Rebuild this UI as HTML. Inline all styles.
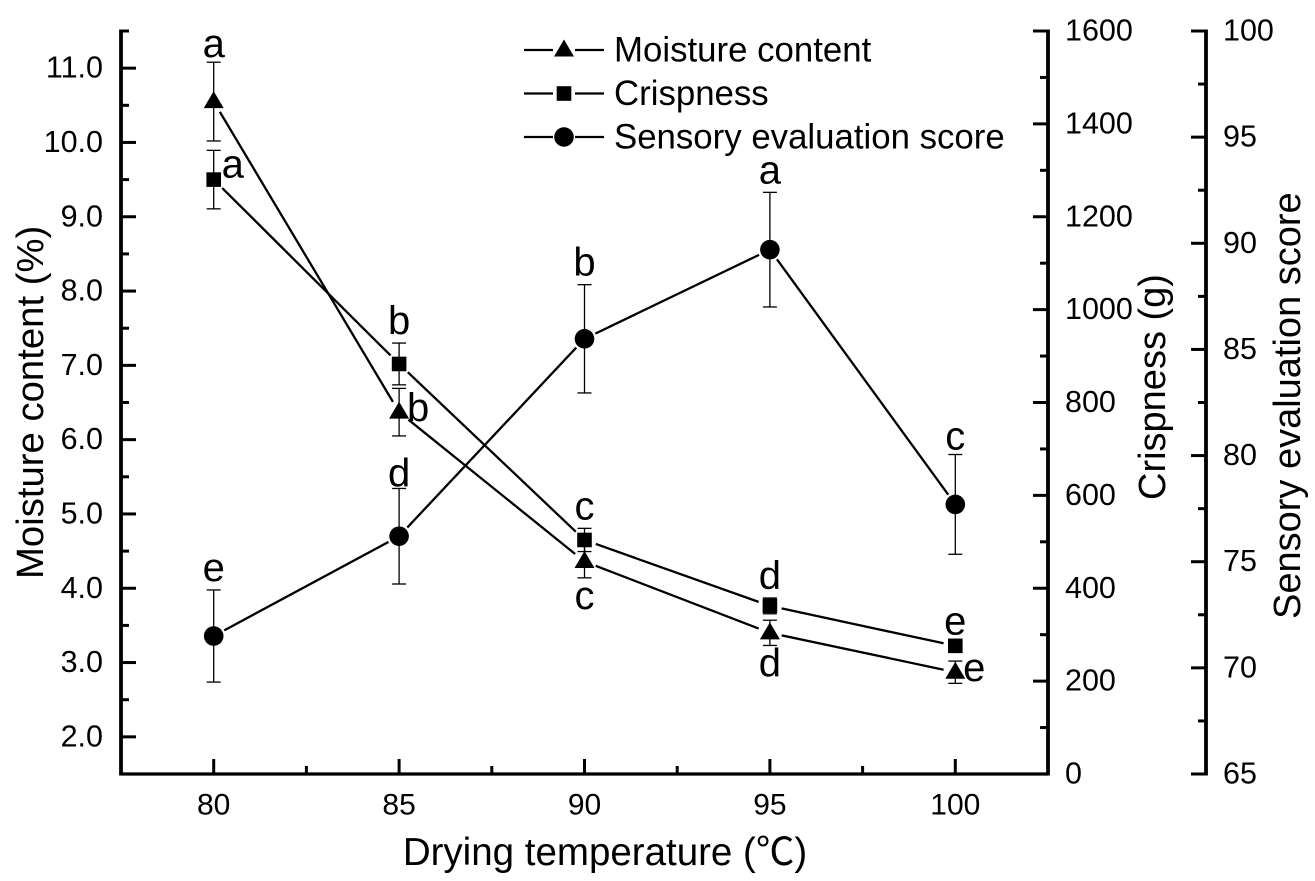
<!DOCTYPE html>
<html lang="en">
<head>
<meta charset="utf-8">
<title>Drying temperature chart</title>
<style>
html,body{margin:0;padding:0;background:#fff;}
svg{display:block;}
text{font-family:"Liberation Sans","Noto Sans CJK SC",sans-serif;fill:#000;}
</style>
</head>
<body>
<svg id="chart" xmlns="http://www.w3.org/2000/svg" width="1315" height="881" viewBox="0 0 1315 881">
  <rect x="0" y="0" width="1315" height="881" fill="#fff"/>
  <g id="axes"></g>
  <g id="series"></g>
  <g id="letters"></g>
  <g id="legend"></g>
  <text x="605" y="865" font-size="38.5" text-anchor="middle">Drying temperature (℃)</text>
  <text transform="translate(43,579) rotate(-90)" font-size="38.3" text-anchor="start">Moisture content (%)</text>
  <text transform="translate(1165,500) rotate(-90)" font-size="38" text-anchor="start">Crispness (g)</text>
  <text transform="translate(1300,619) rotate(-90)" font-size="38" text-anchor="start">Sensory evaluation score</text>
</svg>
<script>
const temperatures = [80, 85, 90, 95, 100];
const moistureValues = [10.55, 6.37, 4.36, 3.40, 2.87];
const moistureErrors = [0.53, 0.32, 0.22, 0.17, 0.15];
const moistureLetters = ['a', 'b', 'c', 'd', 'e'];
const moisturePlacement = ['aboveTight', 'right', 'below', 'below', 'right'];
const crispnessValues = [1280, 883, 504, 362, 276];
const crispnessErrors = [63, 45, 25, 17, 5];
const crispnessLetters = ['a', 'b', 'c', 'd', 'e'];
const crispnessPlacement = ['rightHigh', 'above', 'above', 'above', 'above'];
const sensoryValues = [71.5, 76.2, 85.5, 89.7, 77.7];
const sensoryErrors = [2.17, 2.25, 2.55, 2.7, 2.35];
const sensoryLetters = ['e', 'd', 'b', 'a', 'c'];
const sensoryPlacement = ['above', 'aboveTouch', 'above', 'above', 'aboveTight'];
const xTickLabels = [80, 85, 90, 95, 100];
const moistureTickLabels = ['2.0', '3.0', '4.0', '5.0', '6.0', '7.0', '8.0', '9.0', '10.0', '11.0'];
const crispnessTickLabels = [0, 200, 400, 600, 800, 1000, 1200, 1400, 1600];
const sensoryTickLabels = [65, 70, 75, 80, 85, 90, 95, 100];
const legendLabels = ['Moisture content', 'Crispness', 'Sensory evaluation score'];

const NS = 'http://www.w3.org/2000/svg';
const plot = { left: 121, right: 1048, top: 31, bottom: 774, sensoryX: 1206 };
const xDomain = [77.5, 102.5];
const moistureDomain = [1.5, 11.5];
const crispnessDomain = [0, 1600];
const sensoryDomain = [65, 100];

function xScale(v) { return plot.left + (v - xDomain[0]) / (xDomain[1] - xDomain[0]) * (plot.right - plot.left); }
function linearY(domain) {
  return function (v) { return plot.bottom - (v - domain[0]) / (domain[1] - domain[0]) * (plot.bottom - plot.top); };
}
const yMoisture = linearY(moistureDomain);
const yCrispness = linearY(crispnessDomain);
const ySensory = linearY(sensoryDomain);

function make(tag, parent, attrs, text) {
  const el = document.createElementNS(NS, tag);
  for (const k in attrs) el.setAttribute(k, attrs[k]);
  if (text !== undefined) el.textContent = text;
  parent.appendChild(el);
  return el;
}
function lineEl(parent, x1, y1, x2, y2, w) {
  return make('line', parent, { x1: x1, y1: y1, x2: x2, y2: y2, stroke: '#000', 'stroke-width': w });
}

const axes = document.getElementById('axes');
const seriesLayer = document.getElementById('series');
const lettersLayer = document.getElementById('letters');
const legendLayer = document.getElementById('legend');

/* axis lines */
const moistureAxis = lineEl(axes, plot.left, plot.top - 1.5, plot.left, plot.bottom + 1.5, 3.8);


const crispAxis = lineEl(axes, plot.right, plot.top - 1.5, plot.right, plot.bottom + 1.5, 3.8);


const sensoryAxis = lineEl(axes, plot.sensoryX, plot.top - 1.5, plot.sensoryX, plot.bottom + 1.5, 3.8);


const xAxis = lineEl(axes, plot.left, plot.bottom, plot.right, plot.bottom, 3.2);



/* x ticks */
xTickLabels.forEach(function (v, i) {
  const x = xScale(v);
  const t = lineEl(axes, x, plot.bottom, x, plot.bottom - 15, 3);
  
  
  const lab = make('text', axes, { x: x, y: 814.5, 'font-size': 30, 'text-anchor': 'middle' }, v);
  
  
  if (i < xTickLabels.length - 1) {
    const m = xScale((v + xTickLabels[i + 1]) / 2);
    const mt = lineEl(axes, m, plot.bottom, m, plot.bottom - 8, 3);
    
    
  }
});

/* moisture axis ticks */
moistureTickLabels.forEach(function (s) {
  const v = parseFloat(s);
  const y = yMoisture(v);
  const t = lineEl(axes, plot.left, y, plot.left + 15, y, 3);
  
  
  const lab = make('text', axes, { x: 103, y: y + 9.5, 'font-size': 30.5, 'text-anchor': 'end' }, s);
  
  
  const my = yMoisture(v + 0.5);
  const mt = lineEl(axes, plot.left, my, plot.left + 8, my, 3);
  
  
});

/* crispness axis ticks */
crispnessTickLabels.forEach(function (v, i) {
  const y = yCrispness(v);
  const t = lineEl(axes, plot.right, y, plot.right - 15, y, 3);
  
  
  const lab = make('text', axes, { x: 1065, y: y + 9.5, 'font-size': 30.5 }, v);
  
  
  if (i < crispnessTickLabels.length - 1) {
    const my = yCrispness((v + crispnessTickLabels[i + 1]) / 2);
    const mt = lineEl(axes, plot.right, my, plot.right - 8, my, 3);
    
    
  }
});

/* sensory axis ticks */
sensoryTickLabels.forEach(function (v, i) {
  const y = ySensory(v);
  const t = lineEl(axes, plot.sensoryX, y, plot.sensoryX - 15, y, 3);
  
  
  const lab = make('text', axes, { x: 1223, y: y + 9.5, 'font-size': 30.5 }, v);
  
  
  if (i < sensoryTickLabels.length - 1) {
    const my = ySensory((v + sensoryTickLabels[i + 1]) / 2);
    const mt = lineEl(axes, plot.sensoryX, my, plot.sensoryX - 8, my, 3);
    
    
  }
});

function drawMarker(parent, shape, x, y) {
  if (shape === 'triangle') {
    return make('polygon', parent, { points: (x - 10) + ',' + (y + 6.5) + ' ' + (x + 10) + ',' + (y + 6.5) + ' ' + x + ',' + (y - 10.5), fill: '#000' });
  }
  if (shape === 'square') {
    return make('rect', parent, { x: x - 7.3, y: y - 7.3, width: 14.6, height: 14.6, fill: '#000' });
  }
  return make('circle', parent, { cx: x, cy: y, r: 9.8, fill: '#000' });
}

const placements = {
  above: function (x, y, top, bottom) { return [x, top - 9]; },
  aboveTight: function (x, y, top, bottom) { return [x, top - 5]; },
  aboveTouch: function (x, y, top, bottom) { return [x, top - 2]; },
  below: function (x, y, top, bottom) { return [x, bottom + 31]; },
  right: function (x, y, top, bottom) { return [x + 19, y + 9]; },
  rightHigh: function (x, y, top, bottom) { return [x + 19, y - 2]; }
};

function drawSeries(key, shape, values, errors, scale, letters, placement) {
  const group = make('g', seriesLayer, {});
  
  
  const gap = 12;
  for (let i = 0; i < values.length - 1; i++) {
    const x1 = xScale(temperatures[i]), y1 = scale(values[i]);
    const x2 = xScale(temperatures[i + 1]), y2 = scale(values[i + 1]);
    const len = Math.hypot(x2 - x1, y2 - y1);
    const ux = (x2 - x1) / len, uy = (y2 - y1) / len;
    const seg = lineEl(group, x1 + ux * gap, y1 + uy * gap, x2 - ux * gap, y2 - uy * gap, 2.3);
    
    
  }
  values.forEach(function (v, i) {
    const x = xScale(temperatures[i]);
    const y = scale(v);
    const top = scale(v + errors[i]);
    const bottom = scale(v - errors[i]);
    const bar = lineEl(group, x, top, x, bottom, 1.3);
    
    
    const capTop = lineEl(group, x - 7, top, x + 7, top, 1.3);
    
    
    const capBottom = lineEl(group, x - 7, bottom, x + 7, bottom, 1.3);
    
    
    const mk = drawMarker(group, shape, x, y);
    
    
    const pos = placements[placement[i]](x, y, top, bottom);
    const lab = make('text', lettersLayer, { x: pos[0], y: pos[1], 'font-size': 40, 'text-anchor': 'middle' }, letters[i]);
    
    
  });
}

drawSeries('moisture', 'triangle', moistureValues, moistureErrors, yMoisture, moistureLetters, moisturePlacement);
drawSeries('crispness', 'square', crispnessValues, crispnessErrors, yCrispness, crispnessLetters, crispnessPlacement);
drawSeries('sensory', 'circle', sensoryValues, sensoryErrors, ySensory, sensoryLetters, sensoryPlacement);

/* legend */
const legendShapes = ['triangle', 'square', 'circle'];
legendLabels.forEach(function (label, i) {
  const y = 50 + i * 43.5;
  const g = make('g', legendLayer, {});
  
  
  const a = lineEl(g, 524, y, 553, y, 2.2);
  
  
  const b = lineEl(g, 575, y, 604, y, 2.2);
  
  
  const m = drawMarker(g, legendShapes[i], 564, y);
  
  
  const t = make('text', g, { x: 614, y: y + 11.5, 'font-size': 34.8 }, label);
  
  
});
</script>
</body>
</html>
